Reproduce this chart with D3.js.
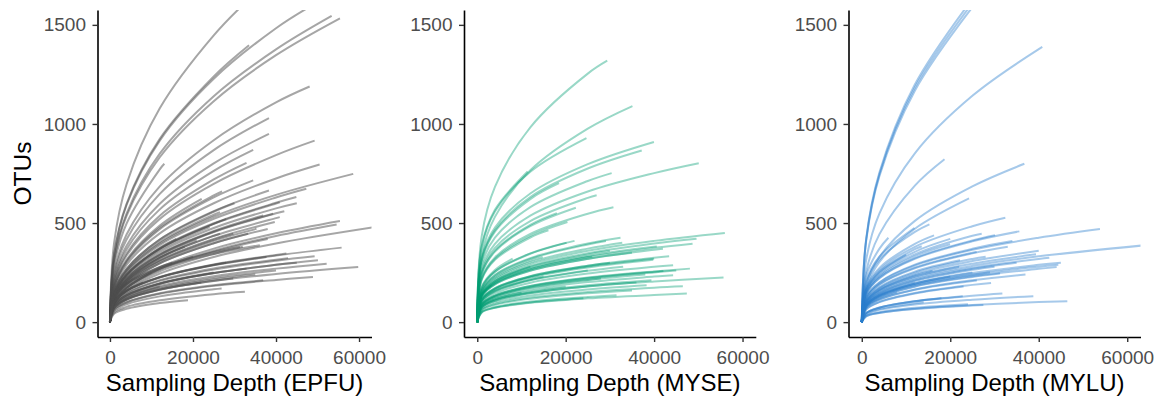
<!DOCTYPE html>
<html>
<head>
<meta charset="utf-8">
<script src="https://cdn.jsdelivr.net/npm/d3@7"></script>
<style>
  html, body { margin: 0; padding: 0; background: #fff; }
  svg { display: block; font-family: "Liberation Sans", Arial, sans-serif; }
</style>
</head>
<body>
<svg id="chart" width="1166" height="404"></svg>
<script>
// Rarefaction curves: each curve is [final depth, final OTUs, OTUs at the depth grid points below the final depth]
const depthGrid = [0, 1000, 4000, 12000, 25000, 40000];

const epfuCurves = [
  [34000,1640,[0,400,696,1079,1447]], [33500,1397,[0,343,597,925,1240]],
  [48000,1590,[0,339,591,916,1228,1483]], [53400,1545,[0,315,548,850,1140,1376]],
  [55400,1533,[0,308,536,832,1115,1347]], [48100,1189,[0,254,442,685,918,1109]],
  [38300,1030,[0,240,417,647,868]], [38300,950,[0,221,385,597,801]],
  [49300,916,[0,193,336,521,698,843]], [50500,795,[0,166,289,448,600,725]],
  [58600,748,[0,147,256,397,532,642]], [34500,869,[0,211,367,569,763]],
  [32900,804,[0,199,346,537,720]], [13100,799,[0,286,497,771]],
  [34500,715,[0,174,302,469,629]], [47300,673,[0,144,251,389,521,629]],
  [44900,631,[0,138,240,372,499,602]], [40900,605,[0,137,238,370,496,599]],
  [38300,664,[0,155,269,417,560]], [39300,547,[0,126,219,340,456]],
  [36900,538,[0,127,221,343,460]], [40900,530,[0,120,209,324,435,525]],
  [39700,505,[0,116,202,313,420]], [35300,471,[0,113,197,306,410]],
  [33300,446,[0,110,191,297,398]], [22100,622,[0,180,314,487]],
  [26500,555,[0,150,261,404,542]], [29700,446,[0,115,200,310,416]],
  [55400,510,[0,102,178,276,371,448]], [54600,493,[0,100,173,269,360,435]],
  [64000,480,[0,91,158,245,329,397]], [55800,376,[0,100,157,226,288,336]],
  [42500,346,[0,100,158,228,291,339]], [49300,332,[0,92,144,208,265,310]],
  [50100,312,[0,86,135,194,248,289]], [52200,295,[0,80,126,182,232,270]],
  [59800,278,[0,72,114,164,209,243]], [48900,228,[0,63,99,143,183,213]],
  [37700,329,[0,99,156,225,287]], [36900,211,[0,64,101,146,186]],
  [32500,153,[0,49,77,110,141]], [32900,270,[0,85,135,194,247]],
  [29700,220,[0,72,113,163,208]], [18800,111,[0,42,67,96]],
  [26900,170,[0,57,90,130,166]], [42900,323,[0,93,147,212,271,315]],
  [31300,379,[0,122,192,277,353]], [36100,388,[0,119,187,270,344]],
  [26500,446,[0,120,209,325,436]], [20900,413,[0,122,213,330]],
  [30000,600,[0,154,268,416,557]], [28000,520,[0,137,238,370,496]],
  [24000,480,[0,135,235,364]], [45000,600,[0,131,229,354,475,574]],
  [42000,560,[0,126,219,339,455,549]], [18000,380,[0,120,208,323]],
  [15000,300,[0,123,193,279]], [25000,250,[0,86,136,196]],
  [40000,260,[0,77,121,175,223]], [45000,300,[0,85,135,194,248,289]],
  [22000,200,[0,72,114,164]], [12000,180,[0,79,125]],
  [35000,240,[0,74,117,169,215]], [20000,330,[0,100,174,269]],
  [38000,420,[0,98,171,265,355]], [32000,380,[0,95,165,256,344]],
  [16000,420,[0,139,241,375]], [27000,660,[0,177,308,477,640]],
  [10000,250,[0,100,173]], [8000,200,[0,101,159]],
  [28000,300,[0,100,158,227,290]], [38000,470,[0,110,191,297,398]]
];

const myseCurves = [
  [29400,1319,[0,433,682,983,1254]], [35100,1090,[0,337,531,766,976]],
  [24700,929,[0,378,558,759]], [39960,909,[0,324,477,649,797]],
  [37200,866,[0,315,464,631,775]], [50100,802,[0,268,395,537,659,752]],
  [11400,760,[0,385,567]], [30400,752,[0,289,426,580,712]],
  [18500,701,[0,310,457,621]], [22300,577,[0,242,356,484]],
  [30800,580,[0,222,327,445,547]], [20400,505,[0,217,320,435]],
  [56000,450,[0,146,215,293,360,410]], [49600,421,[0,141,208,283,348,397]],
  [48700,396,[0,134,197,268,329,375]], [32400,426,[0,161,238,323,397]],
  [32800,401,[0,151,222,302,371]], [29100,409,[0,159,235,319,392]],
  [40600,382,[0,136,200,272,334,381]], [20200,401,[0,173,255,347]],
  [43400,332,[0,116,170,232,285,325]], [39800,315,[0,112,165,225,276]],
  [44300,287,[0,99,146,199,245,279]], [48100,270,[0,91,135,183,225,256]],
  [42100,258,[0,91,134,182,223,254]], [44300,237,[0,82,121,164,202,230]],
  [55700,225,[0,73,108,146,180,205]], [39400,211,[0,75,111,151,186]],
  [46500,181,[0,62,91,124,152,174]], [47400,144,[0,49,72,98,120,137]],
  [38300,186,[0,67,99,134,165]], [31500,136,[0,52,76,104,127]],
  [14800,329,[0,155,228,311]], [16100,463,[0,213,314,427]],
  [3240,186,[0,134]], [35000,350,[0,129,191,259,319]],
  [30000,300,[0,116,171,232,285]], [25000,260,[0,106,156,212]],
  [38000,240,[0,87,128,174,213]], [28000,220,[0,87,128,173,213]],
  [20000,180,[0,78,115,156]], [33000,280,[0,105,155,211,259]],
  [42000,370,[0,130,191,260,320,365]], [26000,330,[0,133,195,266,327]],
  [36000,200,[0,73,108,147,181]], [15000,230,[0,108,159,216]],
  [10000,150,[0,79,116]], [22000,410,[0,172,254,345]],
  [18000,550,[0,245,361,491]], [27000,640,[0,255,375,510,627]],
  [40000,320,[0,114,168,229,281]], [45000,260,[0,89,132,179,220,251]],
  [35000,160,[0,59,87,118,146]], [24000,120,[0,49,73,99]],
  [12000,280,[0,140,206]], [8000,320,[0,179,263]],
  [30000,360,[0,139,205,279,342]]
];

const myluCurves = [
  [26000,1659,[0,422,756,1199,1631]], [27000,1665,[0,417,747,1184,1610]],
  [28000,1668,[0,411,737,1168,1589]], [40800,1389,[0,315,549,852,1142]],
  [18700,822,[0,255,444,689]], [36750,799,[0,189,329,511,685]],
  [24250,624,[0,174,304,471]], [32450,527,[0,167,263,380,484]],
  [15290,493,[0,200,316,455]], [11900,475,[0,210,331]],
  [16340,438,[0,174,274,395]], [53840,470,[0,126,199,286,365,426]],
  [64000,388,[0,98,155,223,284,332]], [35620,458,[0,141,222,320,408]],
  [34040,409,[0,128,201,290,370]], [30120,438,[0,142,224,323,412]],
  [27110,446,[0,150,237,342,436]], [42390,325,[0,94,149,215,274,319]],
  [39380,342,[0,102,161,232,295]], [44430,290,[0,83,131,188,240,280]],
  [44050,278,[0,80,126,181,231,269]], [31250,245,[0,79,124,179,228]],
  [29220,198,[0,65,102,147,188]], [46460,106,[0,30,47,68,86,101]],
  [38780,131,[0,39,62,89,113]], [31780,144,[0,46,73,105,133]],
  [27480,86,[0,29,46,66,84]], [22820,131,[0,47,74,106]],
  [6020,426,[0,235,371]], [22210,312,[0,112,177,255]],
  [25980,354,[0,121,191,275,350]], [19950,393,[0,147,231,333]],
  [13550,383,[0,162,256,368]], [30000,280,[0,91,144,207,264]],
  [25000,250,[0,86,136,196]], [20000,230,[0,85,135,194]],
  [35000,300,[0,93,146,211,269]], [28000,330,[0,110,173,250,319]],
  [16000,260,[0,104,164,237]], [12000,200,[0,88,139]],
  [18000,120,[0,46,73,105]], [14000,100,[0,42,66,95]],
  [24000,90,[0,32,50,72]], [40000,360,[0,107,168,242,308]],
  [33000,380,[0,120,189,272,347]], [22000,280,[0,101,159,229]],
  [26000,210,[0,72,113,163,208]], [45000,300,[0,85,135,194,248,289]],
  [8000,150,[0,76,119]], [10000,340,[0,159,251]],
  [20000,420,[0,156,246,355]], [29000,250,[0,82,130,187,238]],
  [23000,180,[0,64,101,145]], [37000,240,[0,73,115,165,211]]
];

const xTicks = [0, 20000, 40000, 60000];
const yTicks = [0, 500, 1000, 1500];
const xDomain = [-3000, 63000];
const yDomain = [-75, 1575];

const panels = [
  { name: "EPFU", curves: epfuCurves, color: "#4d4d4d", opacity: 0.5, left: 97.5, right: 371.5 },
  { name: "MYSE", curves: myseCurves, color: "#009E73", opacity: 0.4, left: 464, right: 755.8 },
  { name: "MYLU", curves: myluCurves, color: "#2a7fcc", opacity: 0.42, left: 848.5, right: 1140.5 }
];

const svg = d3.select("#chart");
svg.append("rect").attr("width", 1166).attr("height", 404).attr("fill", "#fff");

const plotTop = 10, plotBottom = 337;
const y = d3.scaleLinear().domain(yDomain).range([plotBottom, plotTop]);

panels.forEach((p, i) => {
  const x = d3.scaleLinear().domain(xDomain).range([p.left, p.right]);
  const g = svg.append("g");

  const clipId = "clip" + i;
  svg.append("clipPath").attr("id", clipId)
    .append("rect").attr("x", p.left).attr("y", plotTop)
    .attr("width", p.right - p.left).attr("height", plotBottom - plotTop);

  const line = d3.line().x(d => x(d[0])).y(d => y(d[1])).curve(d3.curveCatmullRom.alpha(0.5));

  g.append("g").attr("clip-path", `url(#${clipId})`)
    .selectAll("path").data(p.curves).join("path")
    .attr("d", c => {
      const pts = c[2].map((v, k) => [depthGrid[k], v]);
      pts.push([c[0], c[1]]);
      return line(pts);
    })
    .attr("fill", "none")
    .attr("stroke", p.color)
    .attr("stroke-opacity", p.opacity)
    .attr("stroke-width", 2);

  // axes
  const xAxis = d3.axisBottom(x).tickValues(xTicks).tickFormat(d3.format("d"))
    .tickSize(5).tickSizeOuter(0).tickPadding(9);
  const yAxis = d3.axisLeft(y).tickValues(yTicks).tickFormat(d3.format("d"))
    .tickSize(5).tickSizeOuter(0).tickPadding(6.5);

  const gx = g.append("g").attr("transform", `translate(0,${plotBottom})`).call(xAxis);
  const gy = g.append("g").attr("transform", `translate(${p.left},0)`).call(yAxis);

  [gx, gy].forEach(a => {
    a.attr("font-family", null).attr("font-size", null);
    a.select(".domain").attr("stroke", "#000").attr("stroke-width", 1.6);
    a.selectAll(".tick line").attr("stroke", "#333").attr("stroke-width", 1.4);
    a.selectAll(".tick text").attr("fill", "#4d4d4d").style("font-size", "19px");
  });

  g.append("text")
    .attr("x", (p.left + p.right) / 2).attr("y", 391)
    .attr("text-anchor", "middle")
    .style("font-size", "24px").attr("fill", "#000")
    .text(`Sampling Depth (${p.name})`);
});

svg.append("text")
  .attr("transform", `translate(30.5,${(plotTop + plotBottom) / 2}) rotate(-90)`)
  .attr("text-anchor", "middle")
  .style("font-size", "24.5px").attr("fill", "#000")
  .text("OTUs");
</script>
</body>
</html>
